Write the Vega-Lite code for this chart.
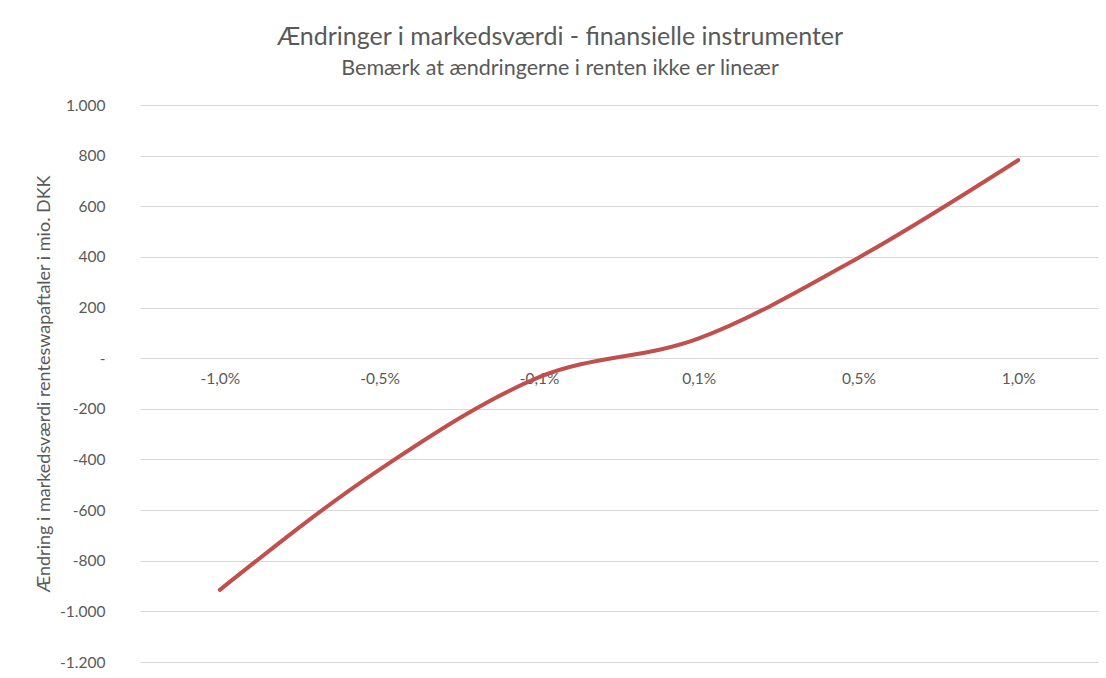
{
  "$schema": "https://vega.github.io/schema/vega-lite/v6.json",
  "autosize": "none",
  "width": 958,
  "height": 557,
  "padding": {"left": 140, "top": 105, "right": 8, "bottom": 16},
  "background": "white",
  "title": {
    "text": "Ændringer i markedsværdi - finansielle instrumenter",
    "subtitle": "Bemærk at ændringerne i renten ikke er lineær",
    "anchor": "middle",
    "dx": -59,
    "offset": 19,
    "font": "Lato",
    "fontSize": 25,
    "fontWeight": "normal",
    "color": "#595959",
    "subtitleFont": "Lato",
    "subtitleFontSize": 21.5,
    "subtitleColor": "#595959",
    "subtitlePadding": 8
  },
  "data": {
    "values": [
      {"rente": "-1,0%", "vaerdi": -915},
      {"rente": "-0,5%", "vaerdi": -440},
      {"rente": "-0,1%", "vaerdi": -75},
      {"rente": "0,1%", "vaerdi": 78},
      {"rente": "0,5%", "vaerdi": 397},
      {"rente": "1,0%", "vaerdi": 782}
    ]
  },
  "config": {
    "view": {"stroke": null},
    "font": "Lato"
  },
  "mark": {"type": "line", "color": "#C0504D", "strokeWidth": 4, "interpolate": "monotone", "strokeCap": "round"},
  "encoding": {
    "x": {
      "field": "rente",
      "type": "ordinal",
      "sort": null,
      "scale": {"type": "point", "padding": 0.5},
      "axis": {
        "title": null,
        "orient": "bottom",
        "offset": -304,
        "domain": false,
        "ticks": false,
        "grid": false,
        "labelAngle": 0,
        "labelPadding": 13,
        "labelFontSize": 15.5,
        "labelColor": "#595959",
        "labelFont": "Lato"
      }
    },
    "y": {
      "field": "vaerdi",
      "type": "quantitative",
      "scale": {"domain": [-1200, 1000], "nice": false, "zero": false},
      "axis": {
        "title": "Ændring i markedsværdi renteswapaftaler i mio. DKK",
        "titleFont": "Lato",
        "titleFontSize": 18,
        "titleFontWeight": "normal",
        "titleColor": "#595959",
        "titlePadding": 6,
        "values": [-1200, -1000, -800, -600, -400, -200, 0, 200, 400, 600, 800, 1000],
        "labelExpr": "datum.value == 0 ? '-' : (datum.value < 0 ? '-' : '') + replace(format(abs(datum.value), ','), ',', '.')",
        "domain": false,
        "ticks": false,
        "labelPadding": 35,
        "labelFontSize": 15.5,
        "labelColor": "#595959",
        "labelFont": "Lato",
        "gridColor": "#d9d9d9",
        "gridWidth": 1
      }
    }
  }
}
